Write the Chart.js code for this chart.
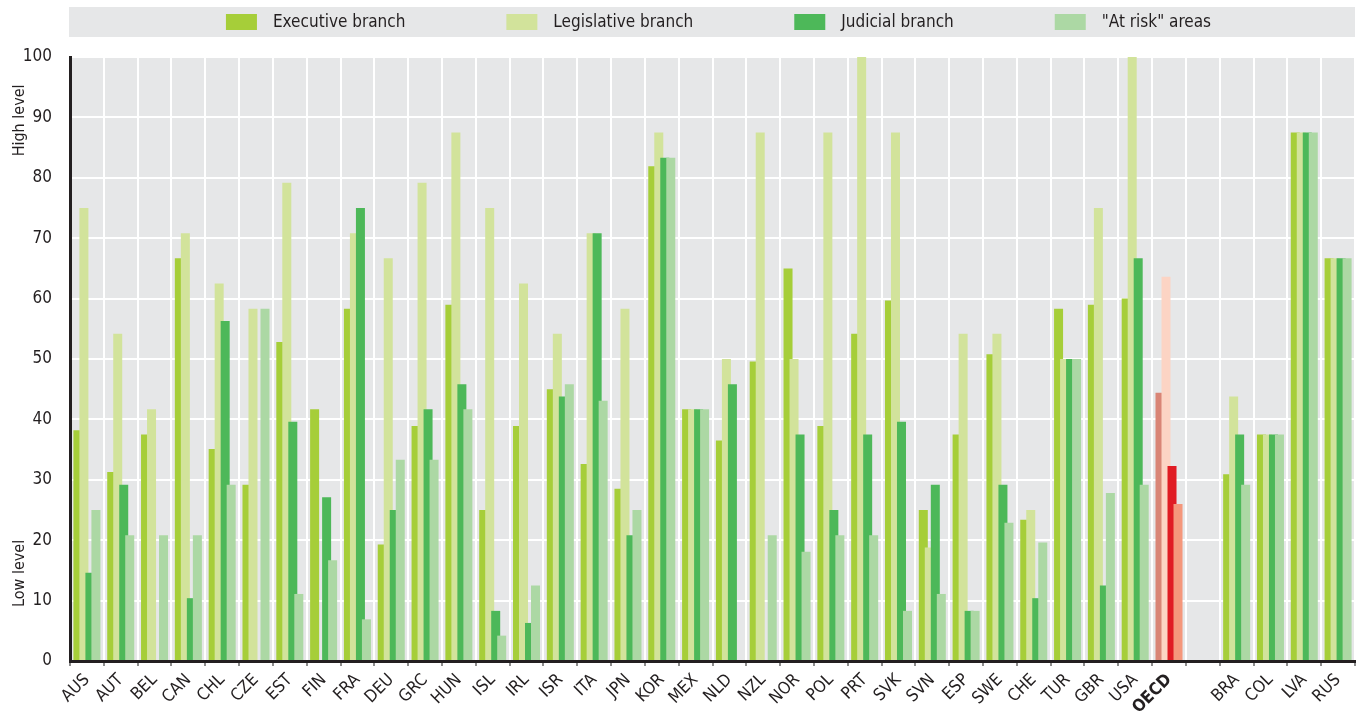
<!DOCTYPE html>
<html>
<head>
<meta charset="utf-8">
<script src="https://cdn.jsdelivr.net/npm/chart.js@4.4.1/dist/chart.umd.min.js"></script>
<style>
  body { margin: 0; background: #fff; }
  #wrap { width: 1356px; height: 712px; }
</style>
</head>
<body>
<div id="wrap"><canvas id="myChart"></canvas></div>
<script>
// paesi (la categoria vuota fa da separatore tra OCSE e partner)
const paesi = ["AUS", "AUT", "BEL", "CAN", "CHL", "CZE", "EST", "FIN", "FRA", "DEU", "GRC", "HUN", "ISL", "IRL", "ISR", "ITA", "JPN", "KOR", "MEX", "NLD", "NZL", "NOR", "POL", "PRT", "SVK", "SVN", "ESP", "SWE", "CHE", "TUR", "GBR", "USA", "OECD", "", "BRA", "COL", "LVA", "RUS"];

const esecutivo = [38.2, 31.3, 37.5, 66.7, 35.1, 29.2, 52.8, 41.7, 58.3, 19.3, 38.9, 59.0, 25.0, 38.9, 45.0, 32.6, 28.5, 81.9, 41.7, 36.5, 49.6, 65.0, 38.9, 54.2, 59.7, 25.0, 37.5, 50.8, 23.4, 58.3, 59.0, 60.0, 44.4, null, 30.9, 37.5, 87.5, 66.7];
const legislativo = [75.0, 54.2, 41.7, 70.8, 62.5, 58.3, 79.2, 0, 70.8, 66.7, 79.2, 87.5, 75.0, 62.5, 54.2, 70.8, 58.3, 87.5, 41.7, 50.0, 87.5, 50.0, 87.5, 100, 87.5, 18.8, 54.2, 54.2, 25.0, 50.0, 75.0, 100, 63.6, null, 43.8, 37.5, 87.5, 66.7];
const giudiziario = [14.6, 29.2, 0, 10.4, 56.3, 0, 39.6, 27.1, 75.0, 25.0, 41.7, 45.8, 8.3, 6.3, 43.8, 70.8, 20.8, 83.3, 41.7, 45.8, 0, 37.5, 25.0, 37.5, 39.6, 29.2, 8.3, 29.2, 10.4, 50.0, 12.5, 66.7, 32.3, null, 37.5, 37.5, 87.5, 66.7];
const aRischio = [25.0, 20.8, 20.8, 20.8, 29.2, 58.3, 11.1, 16.7, 6.9, 33.3, 33.3, 41.7, 4.2, 12.5, 45.8, 43.1, 25.0, 83.3, 41.7, 0, 20.8, 18.1, 20.8, 20.8, 8.3, 11.1, 8.3, 22.9, 19.6, 50.0, 27.8, 29.2, 26.0, null, 29.2, 37.5, 87.5, 66.7];

const nomiSerie = ["Executive branch", "Legislative branch", "Judicial branch", "\"At risk\" areas"];
const coloriVerdi = ["#a6ce39", "#d2e39b", "#4db859", "#acd8a4"];
const coloriOcse = ["#d98576", "#fcd4c4", "#e01b23", "#f5977b"];
const tickY = [0, 10, 20, 30, 40, 50, 60, 70, 80, 90, 100];

const FONT = '"Liberation Sans Narrow", "Arial Narrow", "DejaVu Sans Condensed", sans-serif';
Chart.defaults.font.family = FONT;
Chart.defaults.color = "#231f20";

const serie = [esecutivo, legislativo, giudiziario, aRischio];

const data = {
  labels: paesi,
  datasets: serie.map((valori, i) => ({
    label: nomiSerie[i],
    data: valori,
    backgroundColor: (ctx) => (paesi[ctx.dataIndex] === "OECD" ? coloriOcse[i] : coloriVerdi[i]),
    borderWidth: 0,
    categoryPercentage: 0.71,
    barPercentage: 1.5,
  })),
};

// sfondo grigio dell'area del grafico
const sfondo = {
  id: "sfondo",
  beforeDraw(chart) {
    const a = chart.chartArea;
    const ctx = chart.ctx;
    ctx.save();
    ctx.fillStyle = "#e6e7e8";
    ctx.fillRect(a.left, a.top, a.right - a.left, a.bottom - a.top);
    ctx.restore();
  },
};

// le barre a destra devono stare sopra a quelle a sinistra
const ordineBarre = {
  id: "ordineBarre",
  beforeDatasetsDraw(chart) {
    const a = chart.chartArea;
    const ctx = chart.ctx;
    ctx.save();
    ctx.beginPath();
    ctx.rect(a.left, a.top, a.right - a.left, a.bottom - a.top);
    ctx.clip();
    chart.data.datasets.forEach((d, i) => chart.getDatasetMeta(i).controller.draw());
    ctx.restore();
    return false;
  },
};

// legenda nel riquadro grigio e titoli dell'asse y
const legendaETitoli = {
  id: "legendaETitoli",
  afterDraw(chart) {
    const a = chart.chartArea;
    const ctx = chart.ctx;
    ctx.save();
    ctx.fillStyle = "#e6e7e8";
    ctx.fillRect(a.left - 1, 7, a.right - a.left + 1, 30);

    ctx.font = "17px " + FONT;
    ctx.textBaseline = "middle";
    const box = 31, gapTesto = 16, gapVoci = 101;
    const larghezze = nomiSerie.map((t) => ctx.measureText(t).width);
    let totale = 0;
    larghezze.forEach((w, i) => {
      totale += box + gapTesto + w + (i < larghezze.length - 1 ? gapVoci : 0);
    });
    let x = (a.left + a.right) / 2 + 6 - totale / 2;
    nomiSerie.forEach((t, i) => {
      ctx.fillStyle = coloriVerdi[i];
      ctx.fillRect(x, 14, box, 16);
      ctx.fillStyle = "#231f20";
      ctx.fillText(t, x + box + gapTesto, 23);
      x += box + gapTesto + larghezze[i] + gapVoci;
    });

    const y = chart.scales.y;
    ctx.font = "16px " + FONT;
    ctx.textAlign = "center";
    [["High level", 89.5], ["Low level", 14.5]].forEach(([t, v]) => {
      ctx.save();
      ctx.translate(20, y.getPixelForValue(v));
      ctx.rotate(-Math.PI / 2);
      ctx.fillText(t, 0, 0);
      ctx.restore();
    });
    ctx.restore();
  },
};

const config = {
  type: "bar",
  data: data,
  options: {
    responsive: true,
    maintainAspectRatio: false,
    animation: false,
    layout: { padding: { top: 57, right: 1, left: 0, bottom: 0 } },
    plugins: {
      legend: { display: false },
      tooltip: { enabled: false },
    },
    scales: {
      x: {
        grid: {
          color: "#ffffff",
          lineWidth: 2,
          tickColor: "#8c8c8c",
          tickLength: 5,
          offset: true,
        },
        border: { color: "#231f20", width: 3 },
        ticks: {
          autoSkip: false,
          minRotation: 45,
          maxRotation: 45,
          padding: 4,
          color: "#231f20",
          font: (ctx) =>
            paesi[ctx.index] === "OECD" ? { size: 17, weight: "bold" } : { size: 17 },
        },
        afterFit(scale) {
          scale.height = 51;
          scale.paddingLeft = 0;
          scale.paddingRight = 0;
        },
      },
      y: {
        min: 0,
        max: 100,
        afterBuildTicks(scale) {
          scale.ticks = tickY.map((v) => ({ value: v }));
        },
        grid: { color: "#ffffff", lineWidth: 2, drawTicks: false },
        border: { color: "#231f20", width: 3 },
        ticks: { padding: 18, color: "#231f20", font: { size: 17 } },
        afterFit(scale) {
          scale.width = 70;
        },
      },
    },
  },
  plugins: [sfondo, ordineBarre, legendaETitoli],
};

const myChart = new Chart(document.getElementById("myChart"), config);
</script>
</body>
</html>
